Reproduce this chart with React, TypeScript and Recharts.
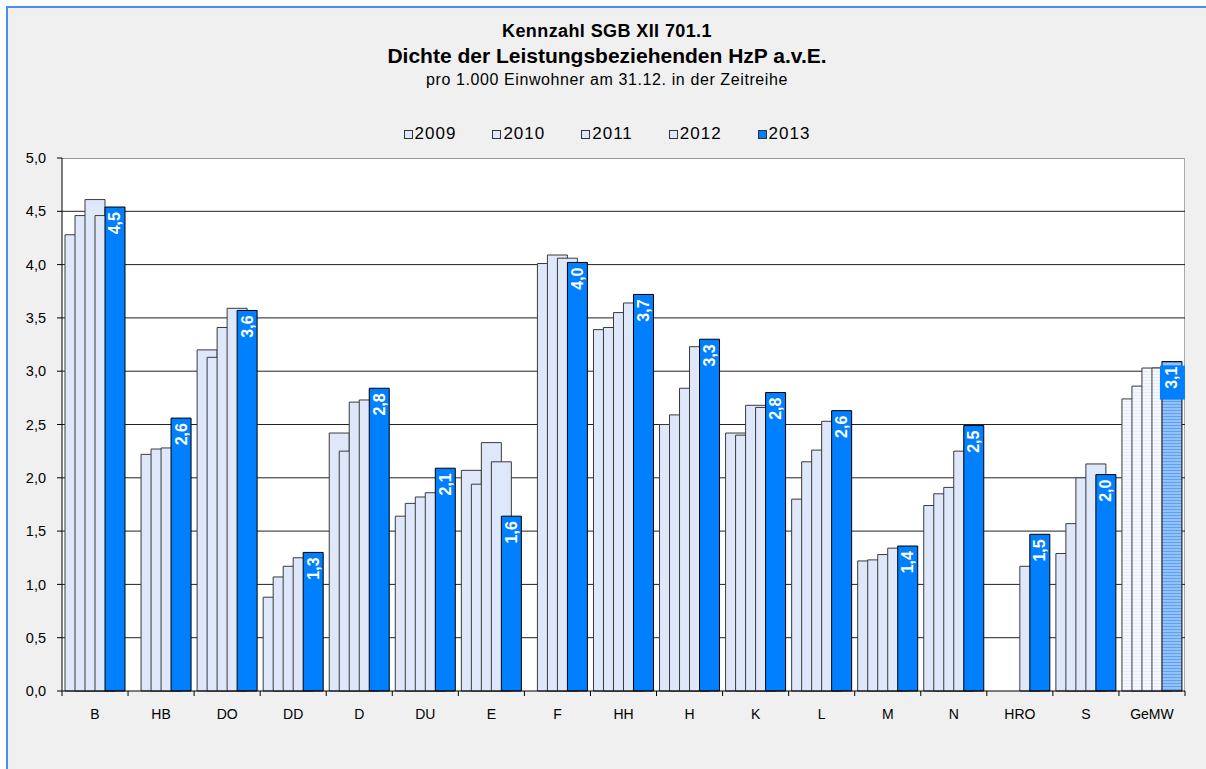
import { BarChart, Bar, XAxis, YAxis, CartesianGrid, LabelList, Cell } from 'recharts'

const CATEGORIES = ['B', 'HB', 'DO', 'DD', 'D', 'DU', 'E', 'F', 'HH', 'H', 'K', 'L', 'M', 'N', 'HRO', 'S', 'GeMW']
const YEARS = ['2009', '2010', '2011', '2012', '2013']

const V2009 = [4.28, null, 3.2, 0.88, 2.42, 1.64, 2.07, null, 3.39, 2.5, 2.42, 1.8, 1.22, 1.74, null, 1.29, 2.74]
const V2010 = [4.46, 2.22, 3.13, 1.07, 2.25, 1.76, 1.94, 4.01, 3.41, 2.59, 2.4, 2.15, 1.23, 1.85, null, 1.57, 2.86]
const V2011 = [4.61, 2.27, 3.41, 1.17, 2.71, 1.82, 2.33, 4.09, 3.55, 2.84, 2.68, 2.26, 1.28, 1.91, null, 2.0, 3.03]
const V2012 = [4.46, 2.28, 3.59, 1.25, 2.73, 1.86, 2.15, 4.06, 3.64, 3.23, 2.66, 2.53, 1.34, 2.25, 1.17, 2.13, 3.03]
const V2013 = [4.54, 2.56, 3.57, 1.3, 2.84, 2.09, 1.64, 4.02, 3.72, 3.3, 2.8, 2.63, 1.36, 2.49, 1.47, 2.03, 3.09]

const Y_TICKS = [0, 0.5, 1, 1.5, 2, 2.5, 3, 3.5, 4, 4.5, 5]
const GRID_VALUES = [0.5, 1, 1.5, 2, 2.5, 3, 3.5, 4, 4.5]

const FONT = '"Liberation Sans", Arial, sans-serif'
const LIGHT = '#dfe8fb'
const BLUE = '#0080ff'

// chart frame (relative to the grey panel, which starts at page 8,8)
const W = 1198
const H = 761
const MARGIN = { top: 150, right: 21, bottom: 48, left: 0 }
const Y_AXIS_W = 54
const X_AXIS_H = 30
const PLOT_W = W - MARGIN.left - MARGIN.right - Y_AXIS_W
const PLOT_H = H - MARGIN.top - MARGIN.bottom - X_AXIS_H
const BAND = PLOT_W / CATEGORIES.length

const SERIES = [V2009, V2010, V2011, V2012, V2013]

const data = CATEGORIES.map((name, i) => {
  const row: Record<string, string | number | null> = { name }
  YEARS.forEach((y, s) => { row['y' + y] = SERIES[s][i] })
  return row
})

const fmt = (v: number) => v.toFixed(1).replace('.', ',')

const XTick = (props: any) => {
  const { x, y, payload, index } = props
  const last = index === CATEGORIES.length - 1
  return (
    <g>
      <line x1={x - BAND / 2} x2={x - BAND / 2} y1={y} y2={y + 5} stroke="#000" />
      {last && <line x1={x + BAND / 2} x2={x + BAND / 2} y1={y} y2={y + 5} stroke="#000" />}
      <text x={x} y={y + 23} textAnchor="middle" dominantBaseline="central" fontSize={14} fontFamily={FONT} fill="#000">
        {payload.value}
      </text>
    </g>
  )
}

const ValueLabel = (props: any) => {
  const { x, y, width, value, index } = props
  const cx = x + width / 2
  const avg = index === CATEGORIES.length - 1
  return (
    <g>
      {avg && <rect x={cx - 12} y={y + 4} width={25} height={34} fill={BLUE} />}
      <text
        x={cx}
        y={y + 5}
        transform={`rotate(-90 ${cx} ${y + 5})`}
        textAnchor="end"
        dominantBaseline="central"
        fill="#fff"
        fontWeight="bold"
        fontSize={16}
        fontFamily={FONT}
      >
        {fmt(value)}
      </text>
    </g>
  )
}

const Legend = () => (
  <div style={{ position: 'absolute', top: 116, left: 0, width: W, display: 'flex', justifyContent: 'center', gap: 36, fontFamily: FONT, fontSize: 17, letterSpacing: 1 }}>
    {YEARS.map((y, i) => (
      <div key={y} style={{ display: 'flex', alignItems: 'center' }}>
        <span style={{ width: 7, height: 7, border: '1px solid #333', background: i === 4 ? BLUE : LIGHT, marginRight: 2 }} />
        <span>{y}</span>
      </div>
    ))}
  </div>
)

export default function App() {
  return (
    <div style={{ position: 'absolute', left: 6, top: 6, width: 1200, height: 763, boxSizing: 'border-box', background: '#f0f0f0', borderLeft: '2px solid #4a90e8', borderTop: '2px solid #4a90e8', fontFamily: FONT }}>
      <div style={{ position: 'absolute', top: 13, left: 0, width: W, textAlign: 'center', fontWeight: 'bold', fontSize: 18, letterSpacing: 0.4 }}>Kennzahl SGB XII 701.1</div>
      <div style={{ position: 'absolute', top: 36, left: 0, width: W, textAlign: 'center', fontWeight: 'bold', fontSize: 21 }}>Dichte der Leistungsbeziehenden HzP a.v.E.</div>
      <div style={{ position: 'absolute', top: 63, left: 0, width: W, textAlign: 'center', fontSize: 16, letterSpacing: 0.6 }}>pro 1.000 Einwohner am 31.12. in der Zeitreihe</div>
      <Legend />
      <div style={{ position: 'absolute', left: Y_AXIS_W, top: MARGIN.top, width: PLOT_W, height: PLOT_H, boxSizing: 'border-box', background: '#fff', borderTop: '1px solid #999', borderRight: '1px solid #aaa' }} />
      <div style={{ position: 'absolute', left: 0, top: 0 }}>
        <BarChart width={W} height={H} data={data} margin={MARGIN} barSize={20} barGap={-10}>
          <defs>
            <pattern id="avgLight" width="4" height="3" patternUnits="userSpaceOnUse">
              <rect width="4" height="3" fill="#f6f8fe" />
              <rect width="4" height="1" fill="#e4ebfa" />
            </pattern>
            <pattern id="avgBlue" width="4" height="3" patternUnits="userSpaceOnUse">
              <rect width="4" height="3" fill="#93c1f8" />
              <rect width="4" height="1" fill="#5fa2f3" />
            </pattern>
          </defs>
          <CartesianGrid vertical={false} horizontalValues={GRID_VALUES} stroke="#222" />
          <XAxis
            dataKey="name"
            height={X_AXIS_H}
            interval={0}
            tickLine={false}
            tickSize={0}
            tickMargin={0}
            axisLine={{ stroke: '#000' }}
            tick={<XTick />}
          />
          <YAxis
            width={Y_AXIS_W}
            domain={[0, 5]}
            ticks={Y_TICKS}
            interval={0}
            tickFormatter={fmt}
            tickSize={5}
            tickMargin={11}
            axisLine={{ stroke: '#000' }}
            tickLine={{ stroke: '#000' }}
            tick={{ fill: '#000', fontSize: 14.5, fontFamily: FONT }}
          />
          {YEARS.map((y, s) => (
            <Bar key={y} dataKey={'y' + y} isAnimationActive={false} stroke={s === 4 ? '#000' : '#3a3a3a'} strokeWidth={1}>
              {data.map((_, i) => (
                <Cell
                  key={i}
                  fill={i === CATEGORIES.length - 1 ? (s === 4 ? 'url(#avgBlue)' : 'url(#avgLight)') : s === 4 ? BLUE : LIGHT}
                />
              ))}
              {s === 4 && <LabelList dataKey={'y' + y} content={<ValueLabel />} />}
            </Bar>
          ))}
        </BarChart>
      </div>
    </div>
  )
}
